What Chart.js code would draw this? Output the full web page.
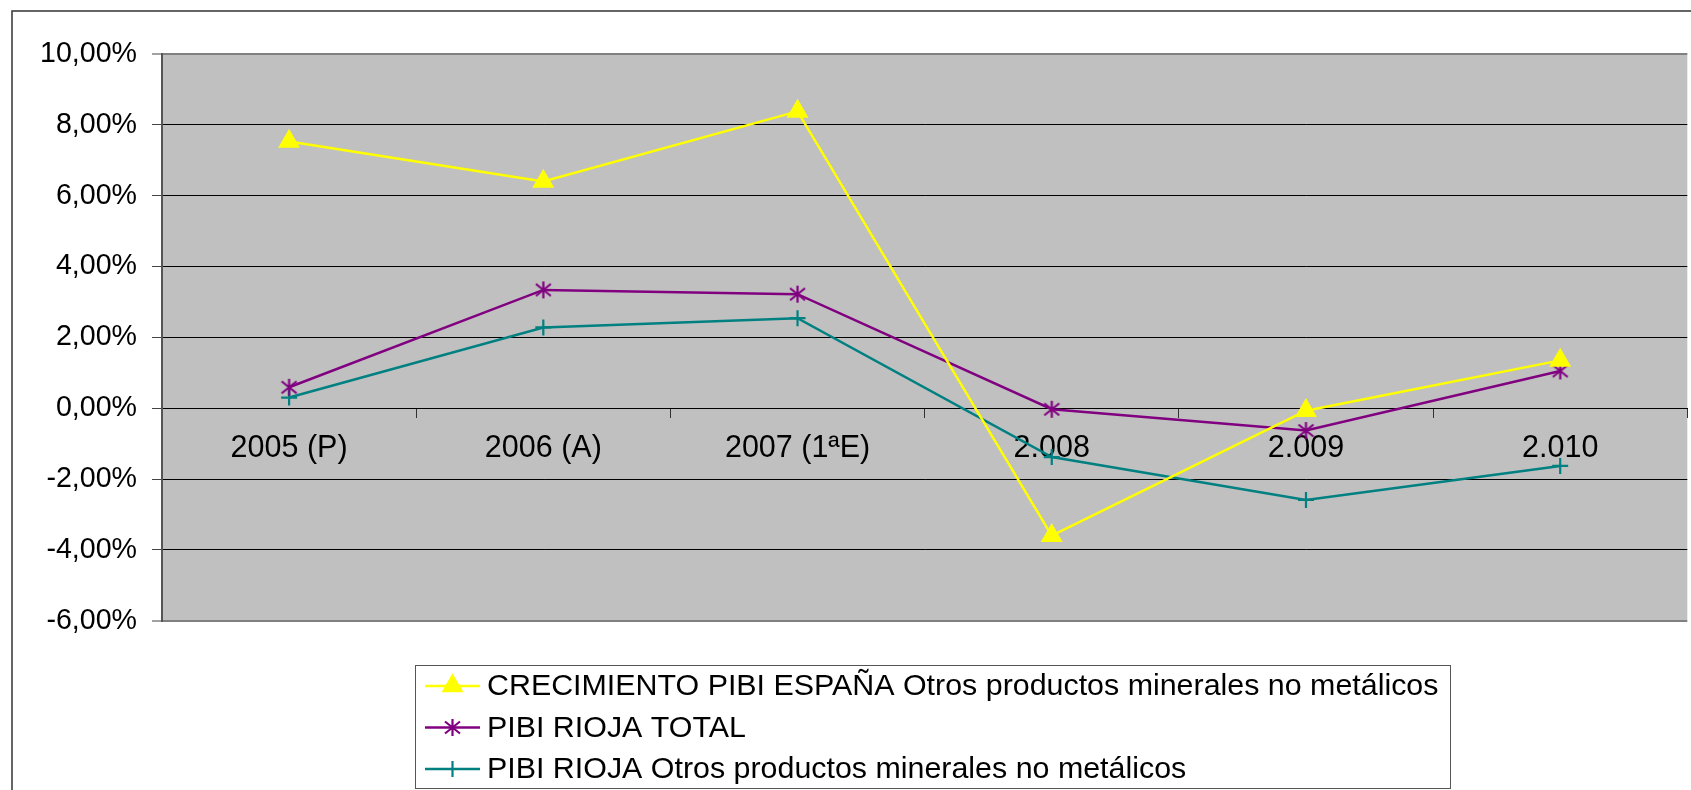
<!DOCTYPE html>
<html>
<head>
<meta charset="utf-8">
<script src="https://cdn.jsdelivr.net/npm/chart.js@4/dist/chart.umd.min.js"></script>
<style>
  html, body { margin: 0; padding: 0; background: #fff; overflow: hidden; }
  #wrap { width: 1700px; height: 790px; }
</style>
</head>
<body>
<div id="wrap"><canvas id="c" width="1700" height="790"></canvas></div>
<script>
// ---- data ----
const categories = ['2005 (P)', '2006 (A)', '2007 (1ªE)', '2.008', '2.009', '2.010'];
const seriesNames = [
  'CRECIMIENTO PIBI ESPAÑA Otros productos minerales no metálicos',
  'PIBI RIOJA TOTAL',
  'PIBI RIOJA Otros productos minerales no metálicos'
];
const espana     = [7.53, 6.40, 8.38, -3.60, -0.07, 1.35];
const riojaTotal = [0.59, 3.34, 3.22, -0.03, -0.63, 1.05];
const riojaOtros = [0.30, 2.28, 2.54, -1.38, -2.59, -1.63];
const yMin = -6, yMax = 10, yStep = 2;

// ---- styles ----
const FONT = '"Liberation Sans", Arial, sans-serif';
const YELLOW = '#FFFF00', PURPLE = '#800080', TEAL = '#008080';

function starMarker(color) {
  const c = document.createElement('canvas');
  c.width = 19; c.height = 19;
  const g = c.getContext('2d');
  g.strokeStyle = color; g.lineWidth = 2.2; g.lineCap = 'butt';
  g.beginPath();
  g.moveTo(9.5, 1); g.lineTo(9.5, 18);
  g.moveTo(2, 3.5); g.lineTo(17, 15.5);
  g.moveTo(17, 3.5); g.lineTo(2, 15.5);
  g.stroke();
  return c;
}
const starImg = starMarker(PURPLE);

const frame = {
  id: 'frame',
  beforeDraw(chart) {
    const ctx = chart.ctx, a = chart.chartArea;
    ctx.save();
    ctx.fillStyle = '#fff';
    ctx.fillRect(0, 0, chart.width, chart.height);
    ctx.strokeStyle = '#333';
    ctx.lineWidth = 1.5;
    ctx.strokeRect(12, 11, 1750, 850);
    ctx.fillStyle = '#C0C0C0';
    ctx.fillRect(a.left, a.top, a.right - a.left, a.bottom - a.top);
    ctx.restore();
  },
  afterDraw(chart) {
    const ctx = chart.ctx;
    ctx.save();
    // legend box
    const bx = 415.5, by = 665.5, bw = 1035, bh = 123;
    ctx.fillStyle = '#fff';
    ctx.fillRect(bx, by, bw, bh);
    ctx.strokeStyle = '#555';
    ctx.lineWidth = 1;
    ctx.strokeRect(bx, by, bw, bh);
    const rows = [686, 727.5, 769];
    chart.data.datasets.forEach((ds, i) => {
      const y = rows[i];
      ctx.strokeStyle = ds.borderColor;
      ctx.lineWidth = 2.5;
      ctx.beginPath();
      ctx.moveTo(425, y); ctx.lineTo(480, y);
      ctx.stroke();
      const opts = {
        pointStyle: ds.pointStyle, radius: ds.pointRadius, rotation: 0,
        borderWidth: ds.pointBorderWidth
      };
      ctx.fillStyle = ds.pointBackgroundColor;
      ctx.strokeStyle = ds.borderColor;
      ctx.lineWidth = ds.pointBorderWidth;
      if (Chart.helpers && Chart.helpers.drawPoint) {
        Chart.helpers.drawPoint(ctx, opts, 452.5, y);
      }
      ctx.fillStyle = '#000';
      ctx.font = '30.4px ' + FONT;
      ctx.textBaseline = 'middle';
      ctx.textAlign = 'left';
      ctx.fillText(ds.label, 487, y + 1);
    });
    ctx.restore();
  }
};

const ds = (label, data, color, style, radius, bg) => ({
  label, data,
  borderColor: color, backgroundColor: color,
  borderWidth: 2.5, tension: 0,
  pointStyle: style, pointRadius: radius, pointHoverRadius: radius,
  pointBackgroundColor: bg, pointBorderColor: color, pointBorderWidth: 2.2
});

new Chart(document.getElementById('c'), {
  type: 'line',
  data: {
    labels: categories,
    datasets: [
      ds(seriesNames[0], espana, YELLOW, 'triangle', 10.5, YELLOW),
      ds(seriesNames[1], riojaTotal, PURPLE, starImg, 9.5, PURPLE),
      ds(seriesNames[2], riojaOtros, TEAL, 'cross', 8, TEAL)
    ]
  },
  options: {
    responsive: false,
    animation: false,
    devicePixelRatio: 1,
    layout: { padding: { top: 54, left: 0, right: 8, bottom: 169.3 } },
    plugins: { legend: { display: false }, tooltip: { enabled: false } },
    scales: {
      x: {
        type: 'category',
        position: { y: 0 },
        offset: true,
        afterFit(s) { s.height = 0; },
        grid: { display: true, drawOnChartArea: false, offset: true, tickLength: 9, tickColor: '#333', tickWidth: 1 },
        border: { display: true, color: '#000', width: 1 },
        ticks: { color: '#000', font: { family: FONT, size: 30.5 }, padding: 13, maxRotation: 0, autoSkip: false }
      },
      y: {
        min: yMin, max: yMax,
        afterFit(s) { s.width = 162; },
        grid: {
          color: (c) => (c.tick && (c.tick.value === yMax || c.tick.value === yMin)) ? '#808080' : '#000',
          lineWidth: (c) => (c.tick && (c.tick.value === yMax || c.tick.value === yMin)) ? 2 : 1,
          tickLength: 10, tickColor: '#444', tickWidth: 1
        },
        border: { display: true, color: '#555', width: 2 },
        ticks: {
          stepSize: yStep, color: '#000', padding: 15,
          font: { family: FONT, size: 28.6 },
          callback: (v) => v.toFixed(2).replace('.', ',') + '%'
        }
      }
    }
  },
  plugins: [frame]
});
</script>
</body>
</html>
